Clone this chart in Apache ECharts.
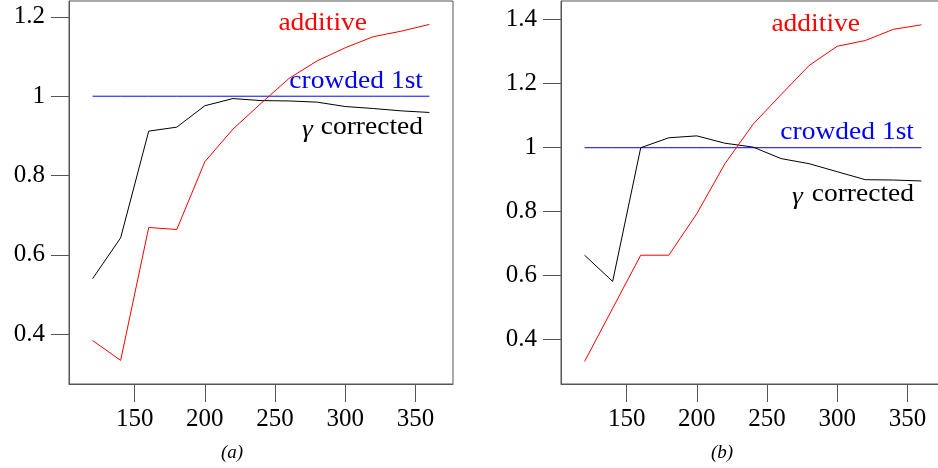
<!DOCTYPE html>
<html>
<head>
<meta charset="utf-8">
<script src="https://cdn.jsdelivr.net/npm/echarts@6/dist/echarts.min.js"></script>
<style>
html, body { margin: 0; padding: 0; background: #fff; }
#chart { width: 938px; height: 468px; }
</style>
</head>
<body>
<div id="chart"></div>
<script>
// x values shared by both panels
var sizes = [120, 140, 160, 180, 200, 220, 240, 260, 280, 300, 320, 340, 360];
var xTicks = [150, 200, 250, 300, 350];

// panel (a)
var gammaA = [0.540, 0.643, 0.912, 0.922, 0.976, 0.994, 0.989, 0.988, 0.985, 0.974, 0.969, 0.963, 0.959];
var additiveA = [0.384, 0.334, 0.669, 0.664, 0.835, 0.917, 0.982, 1.045, 1.089, 1.122, 1.150, 1.164, 1.181];
var crowdedA = [1, 1, 1, 1, 1, 1, 1, 1, 1, 1, 1, 1, 1];
var yTicksA = [0.4, 0.6, 0.8, 1, 1.2];

// panel (b)
var gammaB = [0.664, 0.582, 1.0, 1.031, 1.037, 1.014, 1.002, 0.966, 0.950, 0.925, 0.900, 0.899, 0.896];
var additiveB = [0.332, 0.498, 0.664, 0.664, 0.794, 0.950, 1.073, 1.166, 1.257, 1.317, 1.335, 1.370, 1.384];
var crowdedB = [1, 1, 1, 1, 1, 1, 1, 1, 1, 1, 1, 1, 1];
var yTicksB = [0.4, 0.6, 0.8, 1, 1.2, 1.4];

var font = '"Liberation Serif", "DejaVu Serif", serif';
var frame = '#555';

var pairs = function(ys) {
	return sizes.map(function(x, i) { return [x, ys[i]]; });
};

var xAxisFor = function(idx) {
	return {
		type: 'value',
		gridIndex: idx,
		min: 103.2,
		max: 376.8,
		splitLine: { show: false },
		axisLine: { lineStyle: { color: frame, width: 1 } },
		axisTick: { length: 18, customValues: xTicks, lineStyle: { color: frame } },
		axisLabel: { customValues: xTicks, color: '#000', fontFamily: font, fontSize: 25, margin: 23 }
	};
};

var yAxisFor = function(idx, min, max, ticks) {
	return {
		type: 'value',
		gridIndex: idx,
		min: min,
		max: max,
		splitLine: { show: false },
		axisLine: { show: true, lineStyle: { color: frame, width: 1 } },
		axisTick: { show: true, length: 18, customValues: ticks, lineStyle: { color: frame } },
		axisLabel: { customValues: ticks, color: '#000', fontFamily: font, fontSize: 25, margin: 24 }
	};
};

var lineSeries = function(name, idx, ys, color) {
	return {
		name: name,
		type: 'line',
		xAxisIndex: idx,
		yAxisIndex: idx,
		data: pairs(ys),
		symbol: 'none',
		animation: false,
		lineStyle: { color: color, width: 1 }
	};
};

// annotation text, widened a little to match the reference type width
var txt = function(text, x, y, color, style, align) {
	return {
		type: 'text',
		x: x,
		y: y,
		scaleX: 1.1,
		scaleY: 1.04,
		style: {
			text: text,
			fill: color,
			font: (style || 'normal') + ' 25px ' + font,
			align: align || 'right',
			verticalAlign: 'middle'
		}
	};
};

var caption = function(text, x) {
	return {
		type: 'text',
		x: x,
		y: 453,
		style: { text: text, fill: '#000', font: 'italic 19px ' + font, align: 'center', verticalAlign: 'middle' }
	};
};

var option = {
	backgroundColor: '#fff',
	animation: false,
	grid: [
		{ left: 69, top: 1, width: 384, height: 383, show: true, borderColor: frame, borderWidth: 1, outerBoundsMode: 'none', containLabel: false },
		{ left: 561, top: 1, width: 384, height: 383, show: true, borderColor: frame, borderWidth: 1, outerBoundsMode: 'none', containLabel: false }
	],
	xAxis: [xAxisFor(0), xAxisFor(1)],
	yAxis: [yAxisFor(0, 0.2745, 1.24, yTicksA), yAxisFor(1, 0.2615, 1.4585, yTicksB)],
	series: [
		lineSeries('crowded 1st', 0, crowdedA, '#0000ff'),
		lineSeries('γ corrected', 0, gammaA, '#000000'),
		lineSeries('additive', 0, additiveA, '#ff0000'),
		lineSeries('crowded 1st', 1, crowdedB, '#0000ff'),
		lineSeries('γ corrected', 1, gammaB, '#000000'),
		lineSeries('additive', 1, additiveB, '#ff0000')
	],
	graphic: [
		txt('additive', 367, 23, '#ff0000'),
		txt('crowded 1st', 423, 81, '#0000ff'),
		txt('corrected', 423, 127, '#000000'),
		txt('γ', 302, 130, '#000000', 'italic', 'left'),
		txt('additive', 860, 24, '#ff0000'),
		txt('crowded 1st', 914, 132, '#0000ff'),
		txt('corrected', 914, 194, '#000000'),
		txt('γ', 792, 197, '#000000', 'italic', 'left'),
		caption('(a)', 232),
		caption('(b)', 722)
	]
};

var chart = echarts.init(document.getElementById('chart'), null, { renderer: 'canvas' });
chart.setOption(option);
</script>
</body>
</html>
